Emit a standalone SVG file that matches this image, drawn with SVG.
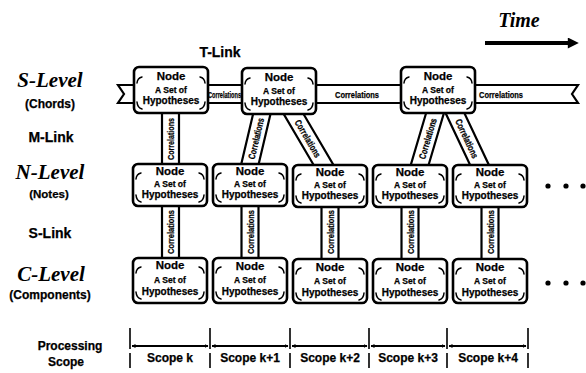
<svg xmlns="http://www.w3.org/2000/svg" width="586" height="373" viewBox="0 0 586 373">
<style>
.box{fill:#fff;stroke:#000;stroke-width:2.6}
.mark{fill:none;stroke:#000;stroke-width:1.5;stroke-linecap:round}
.sans{font-family:"Liberation Sans",Arial,sans-serif;font-weight:bold;fill:#000;stroke:#000;stroke-width:0.25;text-anchor:middle}
.n1{font-size:11.5px}
.n2{font-size:8.5px}
.n3{font-size:10px}
.band{fill:#fff;stroke:#000;stroke-width:2.2;stroke-linejoin:miter}
.corr{font-size:9.5px}
.lvl{font-family:"Liberation Serif","Times New Roman",serif;font-style:italic;font-weight:bold;font-size:21px;fill:#000;text-anchor:middle}
.lab{font-size:12px}
.link{font-size:14px}
.sc{font-size:12px}
.scope{fill:none;stroke:#000;stroke-width:1.8}
.tick{fill:none;stroke:#000;stroke-width:1.6}
</style>
<defs>
<marker id="sa" viewBox="0 0 8 8" refX="7" refY="4" markerWidth="4" markerHeight="4" orient="auto-start-reverse" markerUnits="userSpaceOnUse"><path d="M0,0 L8,4 L0,8 Z" fill="#000"/></marker>
<marker id="ta" viewBox="0 0 10 10" refX="2" refY="5" markerWidth="12" markerHeight="11" orient="auto" markerUnits="userSpaceOnUse"><path d="M0,0 L10,5 L0,10 Z" fill="#000"/></marker>
<g id="mS"><path class="mark" d="M3,16 Q3.5,11 8,10 M66,10 Q70.5,11 71,16 M3,35 Q3.5,41 8,42 M71,35 Q70.5,41 66,42"/></g>
<g id="mN"><path class="mark" d="M3,15 Q3.5,10 8,9 M66,9 Q70.5,10 71,15 M3,31 Q3.5,37 8,38 M71,31 Q70.5,37 66,38"/></g>
<g id="mC"><path class="mark" d="M3,15 Q3.5,10 8,9 M66,9 Q70.5,10 71,15 M3,34 Q3.5,40 8,41 M71,34 Q70.5,40 66,41"/></g>
</defs>
<rect width="586" height="373" fill="#fff"/>

<!-- labels -->
<g id="labels">
<text class="lvl" x="50" y="87">S-Level</text>
<text class="sans lab" x="50" y="108">(Chords)</text>
<text class="sans link" x="51" y="142">M-Link</text>
<text class="lvl" x="50" y="179">N-Level</text>
<text class="sans lab" x="49" y="198" style="font-size:11.5px">(Notes)</text>
<text class="sans link" x="50" y="238">S-Link</text>
<text class="lvl" x="51" y="281">C-Level</text>
<text class="sans lab" x="50" y="299">(Components)</text>
<text class="sans lab" x="70" y="350">Processing</text>
<text class="sans lab" x="66" y="366">Scope</text>
<text class="sans link" x="220" y="57">T-Link</text>
<text class="lvl" x="519" y="27" style="font-size:20px">Time</text>
</g>
<line x1="485" y1="43" x2="570" y2="43" stroke="#000" stroke-width="4" marker-end="url(#ta)"/>

<!-- connectors -->
<g id="connectors">
<path class="band" d="M118,85 H578 L572,94 L578,103 H118 L124,94 Z"/>
<text class="sans corr" x="224.5" y="97.5" textLength="33" lengthAdjust="spacingAndGlyphs">Correlations</text>
<text class="sans corr" x="357" y="97.5" textLength="44" lengthAdjust="spacingAndGlyphs">Correlations</text>
<text class="sans corr" x="501" y="97.5" textLength="44" lengthAdjust="spacingAndGlyphs">Correlations</text>

<rect class="band" x="162" y="108" width="17" height="60"/>
<text class="sans corr" transform="translate(170.5,139) rotate(-90)" x="0" y="3.5" textLength="42" lengthAdjust="spacingAndGlyphs">Correlations</text>

<path class="band" d="M254.5,108 L271.9,108 L257.5,169 L240.1,169 Z"/>
<text class="sans corr" transform="translate(256,138.5) rotate(-76.76)" x="0" y="3.5" textLength="42" lengthAdjust="spacingAndGlyphs">Correlations</text>
<path class="band" d="M280.2,108 L300,108 L335.8,169 L316,169 Z"/>
<text class="sans corr" transform="translate(308,138.5) rotate(59.53)" x="0" y="3.5" textLength="42" lengthAdjust="spacingAndGlyphs">Correlations</text>
<path class="band" d="M427.6,108 L445.4,108 L427.4,169 L409.6,169 Z"/>
<text class="sans corr" transform="translate(427.5,138.5) rotate(-73.61)" x="0" y="3.5" textLength="42" lengthAdjust="spacingAndGlyphs">Correlations</text>
<path class="band" d="M443.2,108 L462,108 L490.8,169 L472,169 Z"/>
<text class="sans corr" transform="translate(467,138.5) rotate(64.8)" x="0" y="3.5" textLength="42" lengthAdjust="spacingAndGlyphs">Correlations</text>

<rect class="band" x="162" y="202" width="17" height="60"/>
<text class="sans corr" transform="translate(170.5,232) rotate(-90)" x="0" y="3.5" textLength="44" lengthAdjust="spacingAndGlyphs">Correlations</text>
<rect class="band" x="241.5" y="202" width="17" height="60"/>
<text class="sans corr" transform="translate(250,232) rotate(-90)" x="0" y="3.5" textLength="44" lengthAdjust="spacingAndGlyphs">Correlations</text>
<rect class="band" x="321.5" y="202" width="17" height="60"/>
<text class="sans corr" transform="translate(330,232) rotate(-90)" x="0" y="3.5" textLength="44" lengthAdjust="spacingAndGlyphs">Correlations</text>
<rect class="band" x="401.5" y="202" width="17" height="60"/>
<text class="sans corr" transform="translate(410,232) rotate(-90)" x="0" y="3.5" textLength="44" lengthAdjust="spacingAndGlyphs">Correlations</text>
<rect class="band" x="481.5" y="202" width="17" height="60"/>
<text class="sans corr" transform="translate(490,232) rotate(-90)" x="0" y="3.5" textLength="44" lengthAdjust="spacingAndGlyphs">Correlations</text>
</g>

<!-- S-level nodes -->
<g id="s1" transform="translate(134,67)"><rect class="box" width="74" height="46" rx="5"/><use href="#mS"/><text class="sans n1" x="37" y="13">Node</text><text class="sans n2" x="37" y="26">A Set of</text><text class="sans n3" x="37" y="37">Hypotheses</text></g>
<g id="s2" transform="translate(242,68)"><rect class="box" width="74" height="46" rx="5"/><use href="#mS"/><text class="sans n1" x="37" y="13">Node</text><text class="sans n2" x="37" y="26">A Set of</text><text class="sans n3" x="37" y="37">Hypotheses</text></g>
<g id="s3" transform="translate(401,67)"><rect class="box" width="74" height="46" rx="5"/><use href="#mS"/><text class="sans n1" x="37" y="13">Node</text><text class="sans n2" x="37" y="26">A Set of</text><text class="sans n3" x="37" y="37">Hypotheses</text></g>

<!-- N-level nodes -->
<g id="n1" transform="translate(133,164)"><rect class="box" width="74" height="42" rx="5"/><use href="#mN"/><text class="sans n1" x="37" y="11">Node</text><text class="sans n2" x="37" y="23">A Set of</text><text class="sans n3" x="37" y="34">Hypotheses</text></g>
<g id="n2" transform="translate(213,164)"><rect class="box" width="74" height="42" rx="5"/><use href="#mN"/><text class="sans n1" x="37" y="11">Node</text><text class="sans n2" x="37" y="23">A Set of</text><text class="sans n3" x="37" y="34">Hypotheses</text></g>
<g id="n3" transform="translate(293,165)"><rect class="box" width="74" height="42" rx="5"/><use href="#mN"/><text class="sans n1" x="37" y="11">Node</text><text class="sans n2" x="37" y="23">A Set of</text><text class="sans n3" x="37" y="34">Hypotheses</text></g>
<g id="n4" transform="translate(373,165)"><rect class="box" width="74" height="42" rx="5"/><use href="#mN"/><text class="sans n1" x="37" y="11">Node</text><text class="sans n2" x="37" y="23">A Set of</text><text class="sans n3" x="37" y="34">Hypotheses</text></g>
<g id="n5" transform="translate(453,165)"><rect class="box" width="74" height="42" rx="5"/><use href="#mN"/><text class="sans n1" x="37" y="11">Node</text><text class="sans n2" x="37" y="23">A Set of</text><text class="sans n3" x="37" y="34">Hypotheses</text></g>

<!-- C-level nodes -->
<g id="c1" transform="translate(133,258)"><rect class="box" width="74" height="45" rx="5"/><use href="#mC"/><text class="sans n1" x="37" y="11">Node</text><text class="sans n2" x="37" y="25">A Set of</text><text class="sans n3" x="37" y="37">Hypotheses</text></g>
<g id="c2" transform="translate(213,258)"><rect class="box" width="74" height="45" rx="5"/><use href="#mC"/><text class="sans n1" x="37" y="12">Node</text><text class="sans n2" x="37" y="25">A Set of</text><text class="sans n3" x="37" y="37">Hypotheses</text></g>
<g id="c3" transform="translate(293,259)"><rect class="box" width="74" height="44" rx="5"/><use href="#mC"/><text class="sans n1" x="37" y="12">Node</text><text class="sans n2" x="37" y="25">A Set of</text><text class="sans n3" x="37" y="37">Hypotheses</text></g>
<g id="c4" transform="translate(373,259)"><rect class="box" width="74" height="44" rx="5"/><use href="#mC"/><text class="sans n1" x="37" y="12">Node</text><text class="sans n2" x="37" y="25">A Set of</text><text class="sans n3" x="37" y="37">Hypotheses</text></g>
<g id="c5" transform="translate(453,259)"><rect class="box" width="74" height="44" rx="5"/><use href="#mC"/><text class="sans n1" x="37" y="12">Node</text><text class="sans n2" x="37" y="25">A Set of</text><text class="sans n3" x="37" y="37">Hypotheses</text></g>

<!-- ellipsis dots -->
<g id="dots" fill="#000">
<circle cx="548" cy="186" r="2.6"/><circle cx="566" cy="186" r="2.6"/><circle cx="583" cy="186" r="2.6"/>
<circle cx="548" cy="283" r="2.6"/><circle cx="566" cy="283" r="2.6"/><circle cx="583" cy="283" r="2.6"/>
</g>

<!-- processing scope -->
<g id="scope">
<path class="tick" d="M130,328 V349 M130,353 V368 M210,328 V349 M210,353 V368 M290,328 V349 M290,353 V368 M369,328 V349 M369,353 V368 M447,328 V349 M447,353 V368 M528,328 V349 M528,353 V368"/>
<line class="scope" x1="132" y1="346" x2="208" y2="346" marker-start="url(#sa)" marker-end="url(#sa)"/>
<line class="scope" x1="212" y1="346" x2="288" y2="346" marker-start="url(#sa)" marker-end="url(#sa)"/>
<line class="scope" x1="292" y1="346" x2="367" y2="346" marker-start="url(#sa)" marker-end="url(#sa)"/>
<line class="scope" x1="371" y1="346" x2="445" y2="346" marker-start="url(#sa)" marker-end="url(#sa)"/>
<line class="scope" x1="449" y1="346" x2="526" y2="346" marker-start="url(#sa)" marker-end="url(#sa)"/>
<text class="sans sc" x="170" y="362">Scope  k</text>
<text class="sans sc" x="250" y="362">Scope k+1</text>
<text class="sans sc" x="330" y="362">Scope k+2</text>
<text class="sans sc" x="408" y="362">Scope k+3</text>
<text class="sans sc" x="488" y="362">Scope k+4</text>
</g>
</svg>
